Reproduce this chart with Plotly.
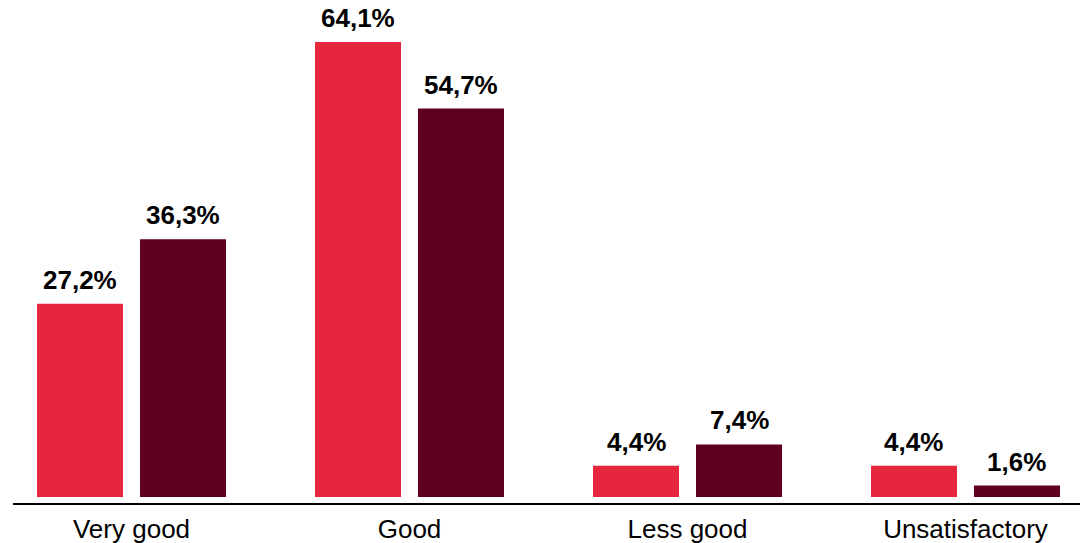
import plotly.graph_objects as go

categories = ["Very good", "Good", "Less good", "Unsatisfactory"]
series_a = [27.2, 64.1, 4.4, 4.4]
series_b = [36.3, 54.7, 7.4, 1.6]
labels_a = ["27,2%", "64,1%", "4,4%", "4,4%"]
labels_b = ["36,3%", "54,7%", "7,4%", "1,6%"]

RED = "#E6263C"
MAROON = "#600020"
FONT = "Liberation Sans, Arial, sans-serif"

fig = go.Figure()
fig.add_trace(go.Bar(x=categories, y=series_a, marker_color=RED, marker_line_width=0, name="A"))
fig.add_trace(go.Bar(x=categories, y=series_b, marker_color=MAROON, marker_line_width=0, name="B"))

annotations = []
for i, c in enumerate(categories):
    for val, lab, shift in ((series_a[i], labels_a[i], -51.5), (series_b[i], labels_b[i], 51.5)):
        annotations.append(dict(
            x=c, y=val, text="<b>" + lab + "</b>", showarrow=False, xshift=shift, yshift=7,
            yanchor="bottom", font=dict(family=FONT, size=26, color="#000000"),
        ))

fig.update_layout(
    width=1080, height=543,
    margin=dict(l=13, r=0, t=0, b=40),
    paper_bgcolor="white", plot_bgcolor="white",
    barmode="group", bargap=0.259, bargroupgap=0.165,
    showlegend=False,
    annotations=annotations,
    font=dict(family=FONT, size=26, color="#000000"),
)
fig.update_xaxes(
    type="category", range=[-0.4263, 3.4119], automargin=False,
    showline=True, linecolor="#000000", linewidth=2,
    ticks="", showgrid=False, ticklabelstandoff=2,
    tickfont=dict(family=FONT, size=26, color="#000000"),
)
fig.update_yaxes(range=[-0.85, 70.0], visible=False, showgrid=False, zeroline=False)

fig.write_html(
    "out.html",
    config={"displayModeBar": False},
    post_script="document.body.style.margin='0px';document.body.style.overflow='hidden';",
)
